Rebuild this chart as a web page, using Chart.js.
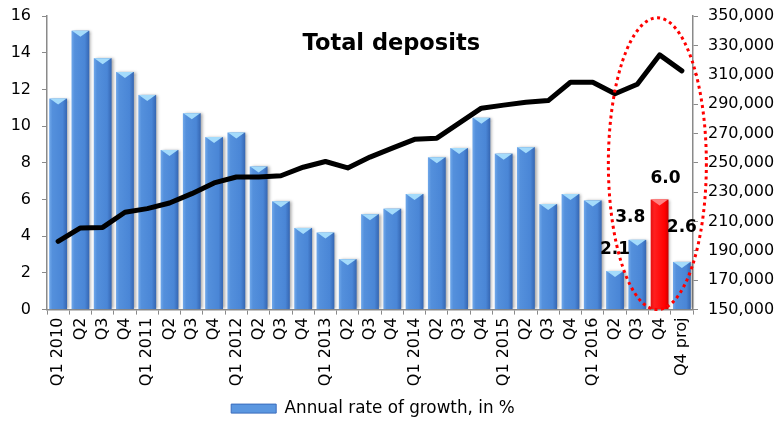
<!DOCTYPE html>
<html><head><meta charset="utf-8">
<script src="https://cdn.jsdelivr.net/npm/chart.js@4"></script>
<style>html,body{margin:0;padding:0;background:#fff}#wrap{width:778px;height:427px}</style>
</head><body><div id="wrap"><canvas id="c" width="778" height="427"></canvas></div>
<script>
const categories = ['Q1 2010','Q2','Q3','Q4','Q1 2011','Q2','Q3','Q4','Q1 2012','Q2','Q3','Q4','Q1 2013','Q2','Q3','Q4','Q1 2014','Q2','Q3','Q4','Q1 2015','Q2','Q3','Q4','Q1 2016','Q2','Q3','Q4','Q4 proj'];
const growth = [11.5,15.2,13.7,12.95,11.7,8.7,10.7,9.4,9.65,7.8,5.9,4.45,4.2,2.75,5.2,5.5,6.3,8.3,8.8,10.45,8.5,8.85,5.75,6.3,5.95,2.1,3.8,6.0,2.6];
const deposits = [196500,205600,206000,216300,218800,222600,229000,236300,240300,240300,241200,247000,250900,246500,253900,260000,266000,266800,277000,287200,289300,291200,292400,304900,304900,297000,303500,323500,312600];
const growthTicks = {min: 0, max: 16, step: 2};
const depositTicks = {min: 150000, max: 350000, step: 20000};
const seriesNames = ['Annual rate of growth, in %', 'Total deposits'];
const titleText = 'Total deposits';
const highlightIndex = 27;
const labelledIndexes = [25, 26, 27, 28];

const FONT = "'DejaVu Sans', sans-serif";
const AXIS = '#8a8a8a';

const barPlugin = {
  id: 'fancyBars',
  beforeDatasetDraw(chart, args) {
    if (args.index !== 0) return;
    const ctx = chart.ctx;
    const ca = chart.chartArea;
    ctx.save();
    ctx.beginPath();
    ctx.rect(ca.left, ca.top - 2, ca.right - ca.left + 4, ca.bottom - ca.top + 2);
    ctx.clip();
    args.meta.data.forEach((el, i) => {
      const p = el.getProps(['x', 'y', 'base', 'width'], true);
      const l = p.x - p.width / 2, r = p.x + p.width / 2;
      const red = i === highlightIndex;
      const g = ctx.createLinearGradient(l, 0, r, 0);
      if (red) {
        g.addColorStop(0, '#e41010'); g.addColorStop(0.2, '#ff2020');
        g.addColorStop(0.8, '#ff0000'); g.addColorStop(1, '#c80000');
      } else {
        g.addColorStop(0, '#70a8ea'); g.addColorStop(0.18, '#5490dc');
        g.addColorStop(0.75, '#4a86d6'); g.addColorStop(1, '#3566b2');
      }
      ctx.save();
      ctx.shadowColor = 'rgba(0,0,0,0.35)';
      ctx.shadowOffsetX = 2; ctx.shadowOffsetY = 0; ctx.shadowBlur = 3;
      ctx.fillStyle = g;
      ctx.fillRect(l, p.y, p.width, p.base - p.y);
      ctx.restore();
      ctx.beginPath();
      ctx.moveTo(l + 0.5, p.y);
      ctx.lineTo(r - 0.5, p.y);
      ctx.lineTo(p.x, p.y + 6);
      ctx.closePath();
      ctx.fillStyle = red ? '#ff8080' : '#a4dbfb';
      ctx.fill();
    });
    ctx.restore();
    return false;
  }
};

const legendShift = {
  id: 'legendShift',
  afterLayout(chart) {
    const lg = chart.legend;
    if (lg) { lg.left -= 16; lg.right -= 16; }
  }
};

const decorPlugin = {
  id: 'decor',
  afterDraw(chart) {
    const ctx = chart.ctx;
    const ca = chart.chartArea;
    const xs = chart.scales.x, ys = chart.scales.y;
    ctx.save();
    ctx.font = "bold 22.5px " + FONT;
    ctx.fillStyle = '#000';
    ctx.textAlign = 'center';
    ctx.textBaseline = 'middle';
    ctx.fillText(titleText, ca.left + (ca.right - ca.left) * 0.533, ca.top + 28);
    const meta = chart.getDatasetMeta(0);
    const offs = {25: [0, 21], 26: [-7, 22], 27: [6, 21], 28: [0, 34]};
    ctx.font = "bold 17px " + FONT;
    labelledIndexes.forEach(i => {
      const el = meta.data[i];
      const o = offs[i] || [0, 20];
      ctx.fillText(growth[i].toFixed(1), el.x + o[0], el.y - o[1]);
    });
    const step = xs.getPixelForValue(1) - xs.getPixelForValue(0);
    const cx = xs.getPixelForValue(highlightIndex) - 0.1 * step;
    const top = ys.getPixelForValue(15.9), bot = ys.getPixelForValue(0);
    ctx.beginPath();
    ctx.ellipse(cx, (top + bot) / 2, 2.2 * step, (bot - top) / 2, 0, 0, Math.PI * 2);
    ctx.strokeStyle = '#ff0000';
    ctx.lineWidth = 3;
    ctx.setLineDash([3, 3.5]);
    ctx.stroke();
    ctx.restore();
  }
};

new Chart(document.getElementById('c'), {
  data: {
    labels: categories,
    datasets: [
      {
        type: 'bar', label: seriesNames[0], data: growth, yAxisID: 'y', order: 1,
        backgroundColor: '#5b97e0', borderColor: '#3a6cbd', borderWidth: 1,
        categoryPercentage: 1, barPercentage: 0.8
      },
      {
        type: 'line', label: seriesNames[1], data: deposits, yAxisID: 'y1', order: 0,
        borderColor: '#000', borderWidth: 5, pointRadius: 0, tension: 0,
        borderJoinStyle: 'round', borderCapStyle: 'round', fill: false
      }
    ]
  },
  options: {
    responsive: false,
    animation: false,
    layout: {padding: {top: 16, right: 0, bottom: 0, left: 0}},
    plugins: {
      title: {display: false},
      tooltip: {enabled: false},
      legend: {
        position: 'bottom',
        labels: {
          filter: item => item.datasetIndex === 0,
          boxWidth: 45, boxHeight: 9, padding: 6,
          color: '#000', font: {family: FONT, size: 16.8}
        }
      }
    },
    scales: {
      x: {
        offset: true,
        grid: {display: true, drawOnChartArea: false, drawTicks: true, tickLength: 5, color: AXIS, offset: true},
        border: {color: AXIS, width: 1.5},
        ticks: {minRotation: 90, maxRotation: 90, autoSkip: false, color: '#000', padding: 3, font: {family: FONT, size: 16}},
        afterFit: s => { s.height = 84.6; }
      },
      y: {
        position: 'left', min: growthTicks.min, max: growthTicks.max,
        grid: {display: true, drawOnChartArea: false, drawTicks: true, tickLength: 5, color: AXIS},
        border: {color: AXIS, width: 1.5},
        ticks: {stepSize: growthTicks.step, color: '#000', padding: 11, font: {family: FONT, size: 16}},
        afterFit: s => { s.width = 47; s.paddingTop = 4; s.paddingBottom = 4; }
      },
      y1: {
        position: 'right', min: depositTicks.min, max: depositTicks.max,
        grid: {display: true, drawOnChartArea: false, drawTicks: true, tickLength: 5, color: AXIS},
        border: {color: AXIS, width: 1.5},
        ticks: {stepSize: depositTicks.step, color: '#000', padding: 10, font: {family: FONT, size: 16},
          callback: v => v.toLocaleString('en-US')},
        afterFit: s => { s.width = 85; s.paddingTop = 4; s.paddingBottom = 4; }
      }
    }
  },
  plugins: [barPlugin, legendShift, decorPlugin]
});
</script>
</body></html>
